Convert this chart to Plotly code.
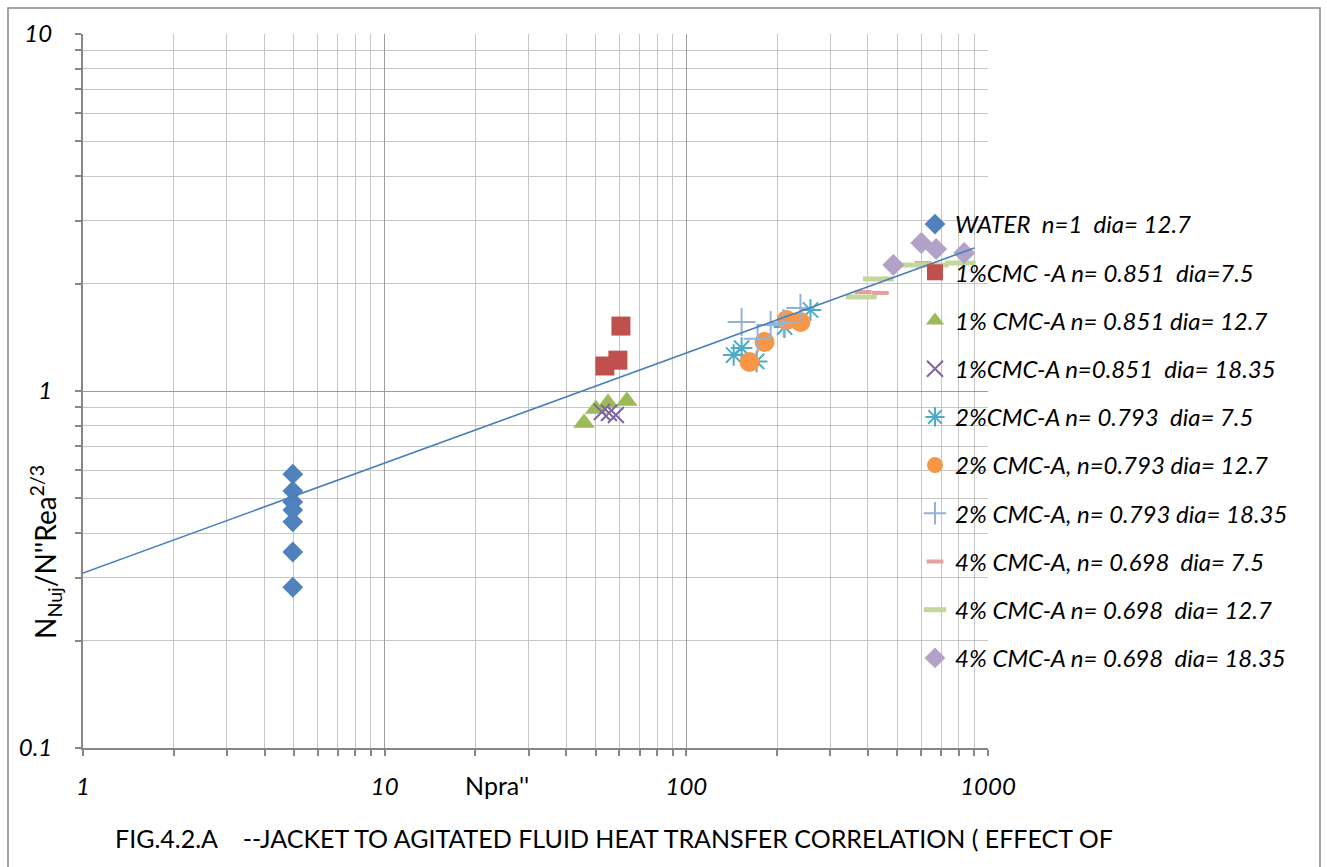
import plotly.graph_objects as go

# ---------------- data ----------------
water_x = [4.96, 4.96, 4.96, 4.96, 4.96, 4.96, 4.96]
water_y = [0.585, 0.525, 0.489, 0.464, 0.430, 0.354, 0.282]

cmc1_75_x = [60.7, 59.3, 53.7]
cmc1_75_y = [1.52, 1.22, 1.175]

cmc1_127_x = [45.8, 50.1, 55.0, 63.5]
cmc1_127_y = [0.814, 0.890, 0.926, 0.938]

cmc1_1835_x = [52.5, 55.4, 58.4]
cmc1_1835_y = [0.873, 0.868, 0.857]

cmc2_75_x = [143.5, 152.5, 171.0, 211.7, 258.0]
cmc2_75_y = [1.261, 1.319, 1.21, 1.51, 1.686]

cmc2_127_x = [162.0, 181.7, 214.8, 239.0]
cmc2_127_y = [1.206, 1.372, 1.58, 1.56]

cmc2_1835_x = [152.5, 172.3, 190.3, 210.0, 239.0]
cmc2_1835_y = [1.56, 1.40, 1.53, 1.55, 1.708]

cmc4_75_x = [386.0, 439.7, 610.0]
cmc4_75_y = [1.893, 1.882, 2.283]

cmc4_127_x = [380.0, 433.0, 552.0, 658.0, 809.0]
cmc4_127_y = [1.834, 2.06, 2.254, 2.254, 2.283]

cmc4_1835_x = [485.5, 601.0, 673.0, 834.0]
cmc4_1835_y = [2.254, 2.598, 2.50, 2.436]

trend_x = [1.0, 900.0]
trend_y = [0.309, 2.515]

names = [
    "WATER  n=1  dia= 12.7",
    "1%CMC -A n= 0.851  dia=7.5",
    "1% CMC-A n= 0.851 dia= 12.7",
    "1%CMC-A n=0.851  dia= 18.35",
    "2%CMC-A n= 0.793  dia= 7.5",
    "2% CMC-A, n=0.793 dia= 12.7",
    "2% CMC-A, n= 0.793 dia= 18.35",
    "4% CMC-A, n= 0.698  dia= 7.5",
    "4% CMC-A n= 0.698  dia= 12.7",
    "4% CMC-A n= 0.698  dia= 18.35",
]

x_major = [1, 10, 100, 1000]
x_major_text = ["1", "10", "100", "1000"]
y_major = [0.1, 1, 10]
y_major_text = ["0.1", "1", "10"]

x_minor = [m * d for d in (1, 10, 100) for m in range(2, 10)]
y_minor = [m * d for d in (0.1, 1) for m in range(2, 10)]

# ---------------- styling ----------------
FONT = "Lato"
W, H = 1327, 867
L, R, T, B = 83, 339, 34, 119

series = [
    (water_x, water_y, dict(symbol="diamond", size=16, color="#4F81BD")),
    (cmc1_75_x, cmc1_75_y, dict(symbol="square", size=19, color="#C0504D")),
    (cmc1_127_x, cmc1_127_y, dict(symbol="triangle-up", size=19, color="#9BBB59")),
    (cmc1_1835_x, cmc1_1835_y, dict(symbol="x-thin-open", size=16, color="#8064A2",
                                    line=dict(width=2, color="#8064A2"))),
    (cmc2_75_x, cmc2_75_y, dict(symbol="asterisk-open", size=18, color="#4BACC6",
                                line=dict(width=2, color="#4BACC6"))),
    (cmc2_127_x, cmc2_127_y, dict(symbol="circle", size=20, color="#F79646")),
    (cmc2_1835_x, cmc2_1835_y, dict(symbol="cross-thin-open", size=20, color="#95B3D7",
                                    line=dict(width=2, color="#95B3D7"))),
    (cmc4_75_x, cmc4_75_y, dict(symbol="line-ew-open", size=12, color="#E6A09E",
                                line=dict(width=4, color="#E6A09E"))),
    (cmc4_127_x, cmc4_127_y, dict(symbol="line-ew-open", size=22, color="#C3D69B",
                                  line=dict(width=5, color="#C3D69B"))),
    (cmc4_1835_x, cmc4_1835_y, dict(symbol="diamond", size=17, color="#B3A2C7")),
]

fig = go.Figure()
for i, ((xs, ys, mk), nm) in enumerate(zip(series, names)):
    fig.add_trace(go.Scatter(x=xs, y=ys, mode="markers", name=nm, marker=mk,
                             legendgroup=f"g{i}"))

fig.add_trace(go.Scatter(x=trend_x, y=trend_y, mode="lines", showlegend=False,
                         line=dict(color="#4A7EBB", width=1.6)))

def px_x(p):
    return (p - L) / (W - L - R)

def px_y(p):
    return (H - B - p) / (H - T - B)

axis_common = dict(
    type="log",
    showline=True, linecolor="#868686", linewidth=2,
    showgrid=True, gridcolor="#9C9C9C", gridwidth=1,
    ticks="outside", ticklen=6, tickcolor="#868686", tickwidth=1.5,
    tickmode="array",
    zeroline=False,
    tickfont=dict(family=FONT, size=24, color="#000000", style="italic"),
)

fig.update_xaxes(
    **axis_common, range=[0, 3], tickvals=x_major, ticktext=x_major_text,
    ticklabelstandoff=10,
    minor=dict(tickmode="array", tickvals=x_minor, showgrid=True, gridcolor="#C6C6C6",
               gridwidth=1, ticks="outside", ticklen=6, tickcolor="#868686"),
)
fig.update_yaxes(
    **axis_common, range=[-1, 1], tickvals=y_major, ticktext=y_major_text,
    ticklabelstandoff=18,
    minor=dict(tickmode="array", tickvals=y_minor, showgrid=True, gridcolor="#C6C6C6",
               gridwidth=1, ticks="outside", ticklen=6, tickcolor="#868686"),
)

fig.update_layout(
    width=W, height=H,
    margin=dict(l=L, r=R, t=T, b=B),
    paper_bgcolor="#FFFFFF", plot_bgcolor="#FFFFFF",
    font=dict(family=FONT, color="#000000"),
    legend=dict(
        x=px_x(915), y=px_y(202), xanchor="left", yanchor="top",
        bgcolor="rgba(0,0,0,0)", borderwidth=0,
        font=dict(family=FONT, size=24, color="#000000", style="italic"),
        tracegroupgap=14, itemsizing="trace",
    ),
    shapes=[dict(type="rect", xref="paper", yref="paper",
                 x0=px_x(8), x1=px_x(1320), y0=px_y(875), y1=px_y(8),
                 line=dict(color="#888888", width=1.5), layer="below")],
    annotations=[
        dict(text="Npra''", xref="paper", yref="paper", x=px_x(497), y=px_y(785),
             showarrow=False, xanchor="center", yanchor="middle",
             font=dict(family=FONT, size=25, color="#000000")),
        dict(text="N<sub>Nuj</sub>/N''Rea<sup>2/3</sup>", xref="paper", yref="paper",
             x=px_x(45), y=px_y(552), textangle=-90,
             showarrow=False, xanchor="center", yanchor="middle",
             font=dict(family=FONT, size=28, color="#000000")),
        dict(text="FIG.4.2.A    --JACKET TO AGITATED FLUID HEAT TRANSFER CORRELATION ( EFFECT OF",
             xref="paper", yref="paper", x=px_x(113), y=px_y(838),
             showarrow=False, xanchor="left", yanchor="middle",
             font=dict(family=FONT, size=25, color="#000000")),
    ],
)

fig.write_html("out.html")
